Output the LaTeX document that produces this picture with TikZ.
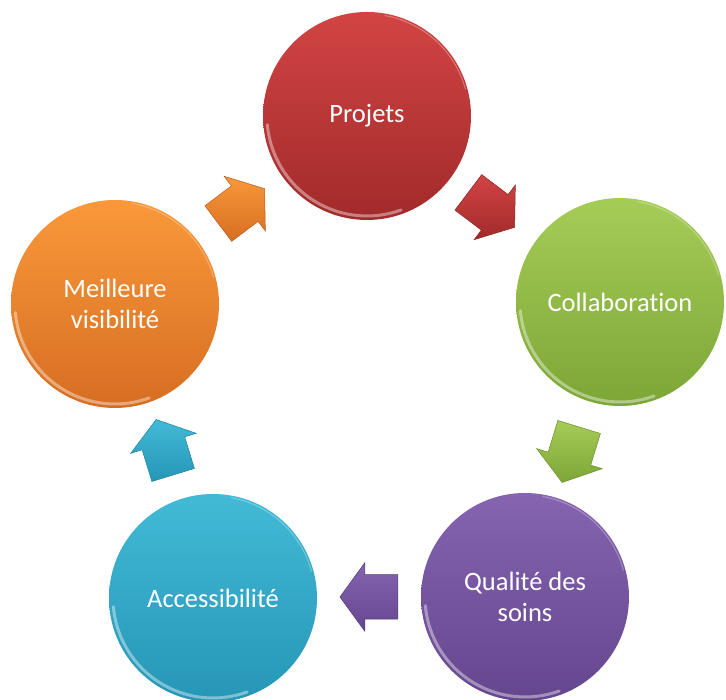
\documentclass[tikz,border=0pt]{standalone}
\usepackage{fontspec}
\setmainfont{Carlito}[Ligatures=NoCommon]
\usetikzlibrary{shapes.arrows}

% Palette: light (top) and dark (bottom) tone for each step
\definecolor{redL}{RGB}{210,68,68}
\definecolor{redD}{RGB}{162,42,42}
\definecolor{grnL}{RGB}{166,204,88}
\definecolor{grnD}{RGB}{124,166,54}
\definecolor{purL}{RGB}{134,100,176}
\definecolor{purD}{RGB}{100,70,142}
\definecolor{bluL}{RGB}{66,186,214}
\definecolor{bluD}{RGB}{38,150,182}
\definecolor{orgL}{RGB}{250,152,58}
\definecolor{orgD}{RGB}{214,110,34}

\tikzset{
  bubble/.style={circle, minimum size=208pt, inner sep=0pt, text=white,
    font=\fontsize{26.5}{31}\selectfont, align=center},
  blockarrow/.style={single arrow, minimum height=58pt, inner xsep=0pt,
    inner ysep=22pt, single arrow head extend=12pt, single arrow tip angle=108,
    line width=.5pt},
  rim/.style={white, line width=3pt, opacity=.4, line cap=round},
}

\begin{document}
\begin{tikzpicture}[x=1pt,y=1pt]
  \useasboundingbox (0,0) rectangle (726,700);
  \clip (0,0) rectangle (726,700);

  % the five steps of the cycle
  \node[bubble, top color=redL, bottom color=redD] (proj) at (367,584) {Projets};
  \node[bubble, top color=grnL, bottom color=grnD] (coll) at (620,398) {Collaboration};
  \node[bubble, top color=purL, bottom color=purD] (qual) at (525,103) {Qualité des\\soins};
  \node[bubble, top color=bluL, bottom color=bluD] (acc) at (213,102) {Accessibilité};
  \node[bubble, top color=orgL, bottom color=orgD] (vis) at (115,396) {Meilleure\\visibilité};

  % glossy rim along the edge of each bubble
  \foreach \c in {proj,coll,qual,acc,vis}{
    \draw[rim] (\c.center) ++(185:100) arc[start angle=185, end angle=290, radius=100];
    \draw[white, line width=1pt, opacity=.3] (\c.center) ++(15:102) arc[start angle=15, end angle=80, radius=102];
  }

  % block arrows between consecutive steps
  \node[blockarrow, rotate=-37, top color=redL, bottom color=redD, draw=redD!85!black] (a1) at (485,495) {};
  \node[blockarrow, rotate=-107, top color=grnL, bottom color=grnD, draw=grnD!85!black] (a2) at (573,253) {};
  \node[blockarrow, rotate=180, top color=purL, bottom color=purD, draw=purD!85!black] (a3) at (377,103) {};
  \node[blockarrow, rotate=107, top color=bluL, bottom color=bluD, draw=bluD!85!black] (a4) at (167,245) {};
  \node[blockarrow, rotate=37, top color=orgL, bottom color=orgD, draw=orgD!85!black] (a5) at (235,489) {};
\end{tikzpicture}
\end{document}
